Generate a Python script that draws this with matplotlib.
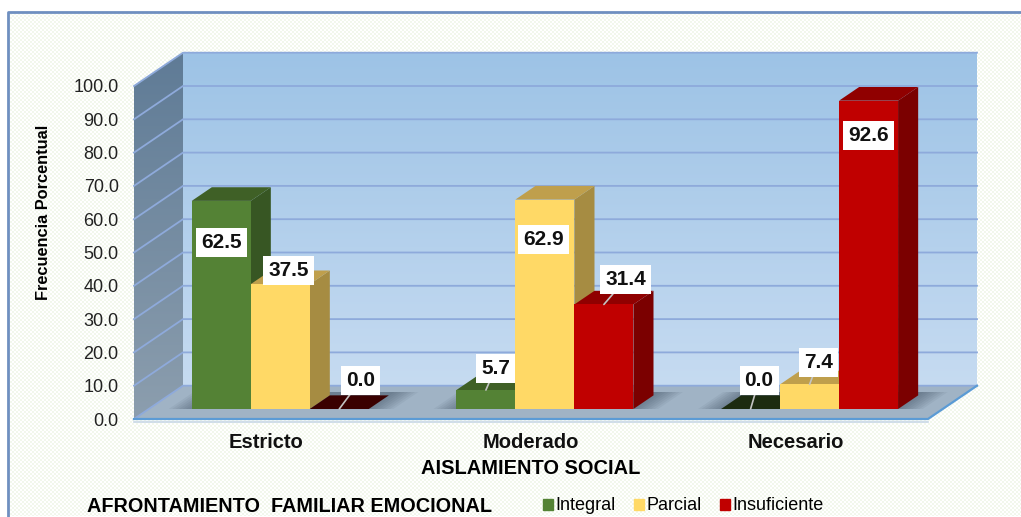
import numpy as np
import matplotlib
matplotlib.use('Agg')
import matplotlib.pyplot as plt
from matplotlib.patches import Polygon, Patch

plt.rcParams['font.family'] = ['Liberation Sans', 'DejaVu Sans']

categories = ['Estricto', 'Moderado', 'Necesario']
integral = [62.5, 5.7, 0.0]
parcial = [37.5, 62.9, 7.4]
insuficiente = [0.0, 31.4, 92.6]
series_names = ['Integral', 'Parcial', 'Insuficiente']
y_ticks = [0, 10, 20, 30, 40, 50, 60, 70, 80, 90, 100]

# front, top, side, top when value is zero
colors = [('#548235', '#3f6026', '#375623', '#1c2b10'),
          ('#ffd966', '#bf9f4c', '#a68c42', '#5a4a20'),
          ('#c00000', '#900000', '#7b0000', '#3a0000')]

# label offset from the bar's top centre, in pixels
label_offsets = [[(0, -42), (8.5, 14), (21.5, 29)],
                 [(9.5, 22), (-1.5, -40), (21.5, 25)],
                 [(8.5, 29), (8.5, 22), (0, -35)]]

W, H = 1021, 517
fig = plt.figure(figsize=(W / 100, H / 100), dpi=100)

# background: dotted panel with blue border
bg = fig.add_axes([0, 0, 1, 1], zorder=0)
tex = np.ones((H, W, 3))
yy, xx = np.mgrid[0:H, 0:W]
dots = ((yy // 2 + xx // 2) % 2 == 0) & (yy > 12) & (xx > 8)
tex[dots] = matplotlib.colors.to_rgb('#f2f7ec')
bg.imshow(tex, interpolation='nearest', aspect='auto')
bg.plot([8, 8, W], [H, 12, 12], color='#6f8fc0', lw=2)
bg.set_xlim(0, W)
bg.set_ylim(H, 0)
bg.axis('off')

ax = fig.add_axes([134 / W, 1 - 419 / H, 794 / W, 333 / H], zorder=1)
ax.patch.set_alpha(0)
ax.set_xlim(-0.5, 2.5)
ax.set_ylim(0, 100)
for s in ax.spines.values():
    s.set_visible(False)

DX = 49 / (794 / 3)   # full depth in x units
DY = 10.0             # full depth in y units
BAR_W = 59 / (794 / 3)
D0, D1 = 0.3, 0.71    # bar front and back depth


def proj(x, y, d):
    return x + d * DX, y + d * DY


def gradient(c1, c2, poly, z):
    # vertical gradient image clipped to a polygon
    g = np.linspace(0, 1, 128)[:, None, None]
    img = (1 - g) * np.array(matplotlib.colors.to_rgb(c1)) + g * np.array(matplotlib.colors.to_rgb(c2))
    xs, ys = zip(*poly)
    im = ax.imshow(img, extent=(min(xs), max(xs), min(ys), max(ys)), aspect='auto', zorder=z, interpolation='bilinear')
    clip = Polygon(poly, closed=True, transform=ax.transData, fc='none', ec='none')
    ax.add_patch(clip)
    clip.set_clip_on(False)
    im.set_clip_box(fig.bbox)
    im.set_clip_path(clip)


x0, x1 = -0.5, 2.5
# back wall, left wall, floor
gradient('#9dc3e6', '#c6dbf1', [proj(x0, 0, 1), proj(x1, 0, 1), proj(x1, 100, 1), proj(x0, 100, 1)], 1)
gradient('#5f7b96', '#8c9eae', [proj(x0, 0, 0), proj(x0, 0, 1), proj(x0, 100, 1), proj(x0, 100, 0)], 1)
ax.add_patch(Polygon([proj(x0, 0, 0), proj(x1, 0, 0), proj(x1, 0, 1), proj(x0, 0, 1)],
                     fc='#a0b3c5', ec='none', zorder=1.5, clip_on=False))

grid_c = '#8eaadb'
for t in y_ticks:
    ax.plot(*zip(proj(x0, t, 0), proj(x0, t, 1), proj(x1, t, 1)), color=grid_c, lw=1.3, zorder=2, clip_on=False)
ax.plot(*zip(proj(x0, 0, 0), proj(x1, 0, 0), proj(x1, 0, 1)), color='#5b9bd5', lw=1.6, zorder=2.5, clip_on=False)
ax.plot(*zip(proj(x0, -0.8, 0), proj(x1, -0.8, 0)), color='#c9d8e6', lw=1.2, zorder=2.5, clip_on=False)

# soft shadow on the floor around each group
for c in range(3):
    for grow in np.linspace(0.0, 0.09, 8):
        left = c - 1.5 * BAR_W - grow
        right = c + 1.5 * BAR_W + grow
        ax.add_patch(Polygon([proj(left, 0, D0), proj(right, 0, D0), proj(right, 0, D1 + 0.1), proj(left, 0, D1 + 0.1)],
                             fc='#2f3f50', ec='none', alpha=0.065, zorder=2.6, clip_on=False))

series = [integral, parcial, insuficiente]
z = 3
tops = {}
for c in range(3):
    for s in range(3):
        v = series[s][c]
        x = c + (s - 1) * BAR_W - 0.003
        front, top, side, zero = colors[s]
        l, r = x - BAR_W / 2, x + BAR_W / 2
        _, base = proj(0, 0, D0)
        fl, _ = proj(l, 0, D0)
        fr, _ = proj(r, 0, D0)
        bl, _ = proj(l, 0, D1)
        br, _ = proj(r, 0, D1)
        rise = (D1 - D0) * DY
        yt = base + v
        if v > 0:
            ax.add_patch(Polygon([(fr, base), (br, base + rise), (br, yt + rise), (fr, yt)],
                                 fc=side, ec='none', zorder=z, clip_on=False))
            ax.add_patch(Polygon([(fl, yt), (fr, yt), (br, yt + rise), (bl, yt + rise)],
                                 fc=top, ec='none', zorder=z, clip_on=False))
            ax.bar((fl + fr) / 2, v, width=BAR_W, bottom=base, color=front, zorder=z, clip_on=False)
        else:
            ax.add_patch(Polygon([(fl, yt), (fr, yt), (br, yt + rise), (bl, yt + rise)],
                                 fc=zero, ec='none', zorder=z, clip_on=False))
        z += 0.01
        tops[(c, s)] = ((fl + fr) / 2, yt)

for c in range(3):
    for s in range(3):
        v = series[s][c]
        dx, dy = label_offsets[c][s]
        props = dict(arrowstyle='-', color='#c4c4c4', lw=1.2, shrinkA=0, shrinkB=0) if dy > 0 else None
        ax.annotate('%.1f' % v, xy=tops[(c, s)], xytext=(dx * 0.72, dy * 0.72), textcoords='offset points',
                    ha='center', va='center', fontsize=15, fontweight='bold', color='#111111', zorder=5,
                    bbox=dict(fc='white', ec='none', boxstyle='square,pad=0.24'),
                    arrowprops=props, annotation_clip=False)

ax.set_yticks(y_ticks)
ax.set_yticklabels(['%.1f' % t for t in y_ticks], fontsize=13, color='#222222')
ax.set_xticks(range(3))
ax.set_xticklabels(categories, fontsize=14.5, fontweight='bold', color='#111111')
ax.tick_params(axis='y', length=0, pad=11)
ax.tick_params(axis='x', length=0, pad=10)
ax.set_xlim(-0.5, 2.5)
ax.set_ylim(0, 100)

fig.text(44 / W, 1 - 212 / H, 'Frecuencia Porcentual', rotation=90, ha='center', va='center',
         fontsize=11.8, fontweight='bold', zorder=6)
fig.text(531 / W, 1 - 469 / H, 'AISLAMIENTO SOCIAL', ha='center', va='center',
         fontsize=14.4, fontweight='bold', zorder=6)
fig.text(87 / W, 1 - 507 / H, 'AFRONTAMIENTO  FAMILIAR EMOCIONAL', ha='left', va='center',
         fontsize=14.3, fontweight='bold', zorder=6)

handles = [Patch(color=colors[i][0], label=series_names[i]) for i in range(3)]
fig.legend(handles=handles, loc='center left', bbox_to_anchor=(543 / W, 1 - 506 / H), ncol=3, frameon=False,
           fontsize=13, handlelength=0.55, handleheight=0.55, handletextpad=0.15, columnspacing=1.0, borderpad=0,
           borderaxespad=0)

fig.savefig('out.png', dpi=100)
